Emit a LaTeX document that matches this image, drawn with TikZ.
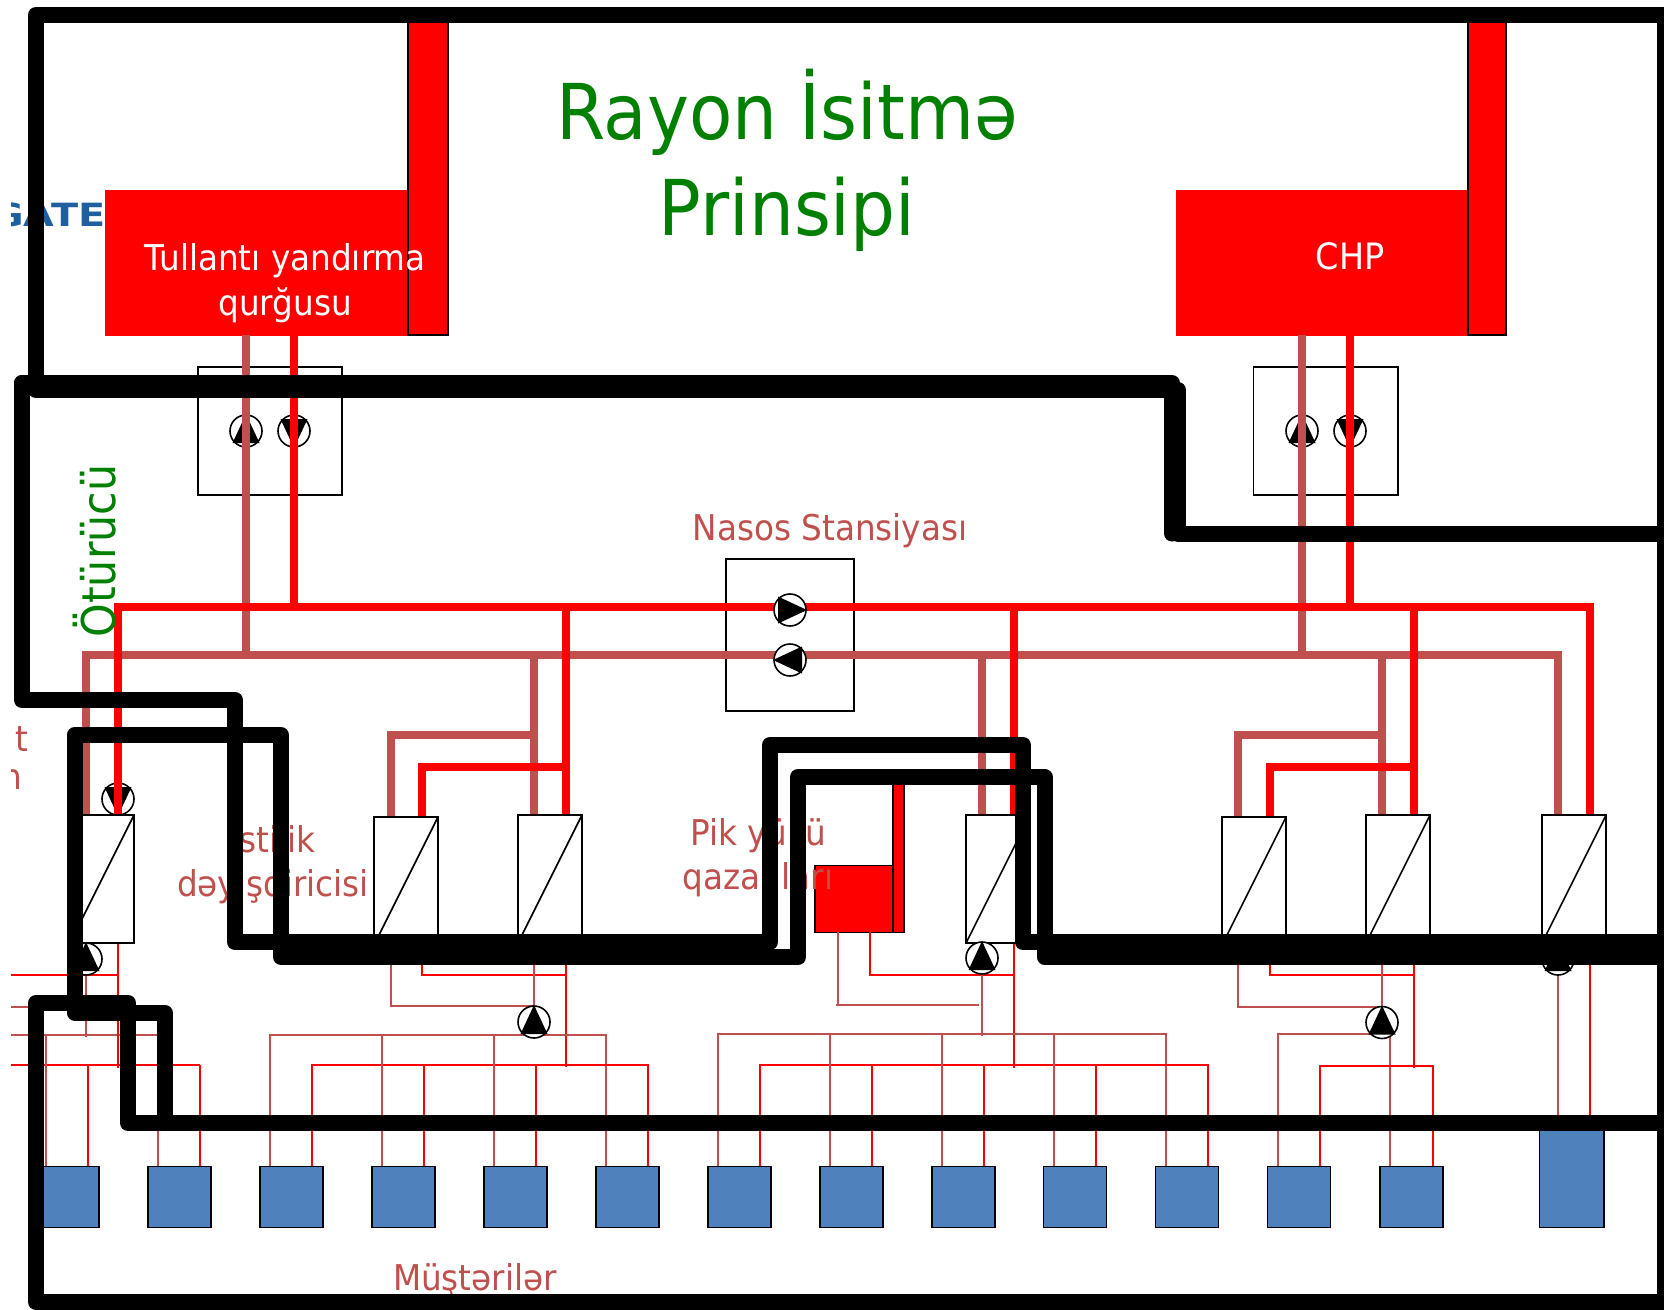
\documentclass[tikz,border=0pt]{standalone}
\usepackage{fontspec}
\setmainfont{DejaVu Sans}[FakeStretch=0.92]
\definecolor{brownpipe}{HTML}{C0504D}
\definecolor{pipered}{HTML}{FF0000}
\definecolor{titlegreen}{HTML}{008000}
\definecolor{custblue}{HTML}{4F81BD}
\definecolor{logoblue}{HTML}{1F5F9F}
\tikzset{
  bigred/.style={fill=pipered,draw=none},
  chimney/.style={fill=pipered,draw=black,line width=1.6pt},
  pumpbox/.style={draw=black,line width=1.6pt},
  hex/.style={draw=black,fill=white,line width=1.6pt},
  customer/.style={fill=custblue,draw=black,line width=1.8pt},
  thickbrown/.style={draw=brownpipe,line width=7.8pt},
  thickred/.style={draw=pipered,line width=7.8pt},
  thinbrown/.style={draw=brownpipe,line width=2pt},
  thinred/.style={draw=pipered,line width=2pt},
  wall/.style={draw=black,line width=16pt,line join=round,line cap=round},
  lbl/.style={text=brownpipe,font=\fontsize{35.5}{44}\selectfont,align=center,inner sep=0pt},
}
\newcommand\pumpat[3]{%
  \begin{scope}[shift={(#1,#2)},rotate=#3]
    \draw[fill=white,draw=black,line width=1.6pt] (0,0) circle[radius=16pt];
    \fill[black] (0,-17) -- (-13.5,12) -- (13.5,12) -- cycle;
  \end{scope}}
\newcommand\hexat[2]{%
  \draw[hex] (#1,#2) rectangle ++(64,128);
  \draw[black,line width=1.6pt] (#1+64,#2) -- (#1,#2+128);}
\begin{document}
\begin{tikzpicture}[x=1pt,y=-1pt]
\useasboundingbox (0,0) rectangle (1664,1309);
\fill[white] (0,0) rectangle (1664,1309);
% clipped fragments at the left edge
\begin{scope}
  \clip (11,190) rectangle (104.5,240);
  \node[anchor=base east,inner sep=0pt,text=logoblue,xscale=1.35,font=\bfseries\fontsize{32}{36}\selectfont] (logo) at (106,226) {GATE};
\end{scope}
\begin{scope}
  \clip (11,700) rectangle (60,800);
  \node[anchor=base east,lbl] (fragt) at (29,751) {t};
  \node[anchor=base east,lbl] (fragn) at (22,789) {n};
\end{scope}
% boxes
\fill[bigred] (105,190) rectangle (408,335.5);
\draw[chimney] (408,10) rectangle (448,335);
\fill[bigred] (1176,190) rectangle (1468,335.5);
\draw[chimney] (1468,10) rectangle (1506,335);
\draw[pumpbox] (198,367) rectangle (342,495);
\draw[pumpbox] (1253.5,367) rectangle (1398,495);
\draw[pumpbox] (726,559) rectangle (854,711);
% pumps beneath the pipes
\pumpat{246}{431}{0}
\pumpat{294}{431}{180}
\pumpat{1302}{431}{0}
\pumpat{1350}{431}{180}
\pumpat{118}{799}{180}
% main pipes
\draw[thickbrown] (246,335) -- (246,655);
\draw[thickred] (294,335) -- (294,607);
\draw[thickbrown] (1302,335) -- (1302,655);
\draw[thickred] (1350,335) -- (1350,607);
\draw[thickred] (114.25,607) -- (1593.75,607);
\draw[thickbrown] (82.25,655) -- (1561.75,655);
\foreach \xx in {86,534,982,1382,1558}{\draw[thickbrown] (\xx,655) -- (\xx,816);}
\foreach \xx in {118,566,1014,1414,1590}{\draw[thickred] (\xx,607) -- (\xx,816);}
\draw[thickbrown,line cap=rect] (534,735) -- (391,735) -- (391,816);
\draw[thickred,line cap=rect] (566,767) -- (422,767) -- (422,820);
\draw[thickbrown,line cap=rect] (1382,735) -- (1238,735) -- (1238,816);
\draw[thickred,line cap=rect] (1414,767) -- (1270,767) -- (1270,820);
% peak boiler
\draw[chimney] (893,770) rectangle (904,932.5);
\draw[chimney] (815,865.5) rectangle (893,932.5);
% thin secondary pipes, group 1
\draw[thinred] (11,975) -- (118,975);
\draw[thinbrown] (11,1007) -- (86,1007);
\draw[thinbrown] (11,1035) -- (158,1035);
\draw[thinred] (11,1065) -- (200,1065);
\draw[thinbrown] (86,943) -- (86,1037);
\draw[thinred] (118,943) -- (118,1068);
% group 2
\draw[thinbrown] (391,943) -- (391,1006) -- (534,1006);
\draw[thinred] (422,943) -- (422,974.5) -- (566,974.5);
\draw[thinbrown] (534,943) -- (534,1035);
\draw[thinred] (566,943) -- (566,1067);
\draw[thinbrown] (270,1167) -- (270,1034.5) -- (606,1034.5) -- (606,1167);
\draw[thinred] (312,1167) -- (312,1064.5) -- (648,1064.5) -- (648,1167);
% group 3
\draw[thinbrown] (838,932) -- (838,1006);
\draw[thinbrown] (836,1004.5) -- (979,1004.5);
\draw[thinred] (870,932) -- (870,974.5) -- (1014,974.5);
\draw[thinbrown] (982,943) -- (982,1036);
\draw[thinred] (1014,943) -- (1014,1068);
\draw[thinbrown] (718,1167) -- (718,1034) -- (1166,1034) -- (1166,1167);
\draw[thinred] (760,1167) -- (760,1064.5) -- (1208,1064.5) -- (1208,1167);
% group 4
\draw[thinbrown] (1238,943) -- (1238,1006.5) -- (1382,1006.5);
\draw[thinred] (1270,943) -- (1270,975) -- (1414,975);
\draw[thinbrown] (1382,943) -- (1382,1036);
\draw[thinred] (1414,943) -- (1414,1068);
\draw[thinbrown] (1278,1167) -- (1278,1034) -- (1390,1034) -- (1390,1167);
\draw[thinred] (1320,1167) -- (1320,1065.5) -- (1432.5,1065.5) -- (1432.5,1167);
% group 5
\draw[thinbrown] (1558,943) -- (1558,1131);
\draw[thinred] (1590,943) -- (1590,1131);
% drops
\foreach \xx in {46,158,382,494,830,942,1054}{\draw[thinbrown] (\xx,1034) -- (\xx,1167);}
\foreach \xx in {88,200,424,536,872,984,1096}{\draw[thinred] (\xx,1065) -- (\xx,1167);}
% heat exchangers
\hexat{70}{815}
\hexat{374}{817}
\hexat{518}{815}
\hexat{966}{815}
\hexat{1222}{817}
\hexat{1366}{815}
\hexat{1542}{815}
% pumps above the thin pipes
\pumpat{86}{959}{0}
\pumpat{534}{1022}{0}
\pumpat{982}{958}{0}
\pumpat{1382}{1022.5}{0}
\pumpat{1558}{959}{0}
\pumpat{790}{610}{-90}
\pumpat{790}{660}{90}
% customers
\foreach \xx in {36,148,260,372,484,596,708,820,932,1043.5,1155.5,1267.5,1380}{
  \draw[customer] (\xx,1166.5) rectangle ++(63,61);}
\draw[customer] (1539.5,1125) rectangle (1604,1227.5);
% labels
\node[lbl,text=titlegreen,font=\fontsize{77}{96}\selectfont] (title) at (787,160) {Rayon İsitmə\\Prinsipi};
\node[lbl,text=white,font=\fontsize{35.5}{45}\selectfont] (waste) at (285,283) {Tullantı yandırma\\qurğusu};
\node[lbl,text=white,font=\fontsize{36.3}{45}\selectfont] (chp) at (1350,256) {CHP};
\node[lbl] (nasos) at (830,531) {Nasos Stansiyası};
\node[lbl] (peak) at (758,858) {Pik yükü\\qazanları};
\node[lbl] (exch) at (273,862) {İstilik\\dəyişdiricisi};
\node[lbl] (cust) at (475,1280) {Müştərilər};
\node[lbl,text=titlegreen,rotate=90,font=\fontsize{46.5}{50}\selectfont] (trans) at (95,551) {Ötürücü};
% black walls
\draw[wall] (1664,15) -- (36,15) -- (36,390) -- (1178,390) -- (1178,533.5) -- (1664,533.5);
\draw[wall] (36,383) -- (22,383) -- (22,700) -- (235,700) -- (235,942) -- (770,942) -- (770,745) -- (1023,745) -- (1023,942) -- (1664,942);
\draw[wall] (1100,383) -- (1172,383) -- (1172,533.5);
\draw[wall] (22,383) -- (1100,383);
\draw[wall] (1664,957) -- (1044.5,957) -- (1044.5,777) -- (798,777) -- (798,957) -- (281,957) -- (281,735) -- (74.5,735) -- (74.5,1012.5) -- (164.5,1012.5) -- (164.5,1123);
\draw[wall] (1664,1123) -- (128,1123) -- (128,1003) -- (36,1003) -- (36,1302) -- (1664,1302);
\draw[wall] (1665,15) -- (1665,1302);
\end{tikzpicture}
\end{document}
